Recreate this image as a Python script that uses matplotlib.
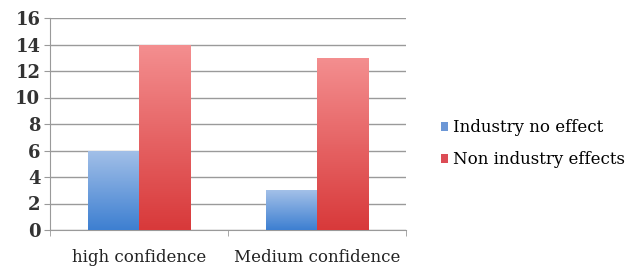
import numpy as np
import matplotlib
matplotlib.use("Agg")
import matplotlib.pyplot as plt
from matplotlib.colors import LinearSegmentedColormap
from matplotlib.patches import Patch

categories = ["high confidence", "Medium confidence"]
series_names = ["Industry no effect", "Non industry effects"]
industry_no_effect = [6, 3]
non_industry_effects = [14, 13]
yticks = [0, 2, 4, 6, 8, 10, 12, 14, 16]

plt.rcParams['font.family'] = ['DejaVu Serif', 'Liberation Serif']

fig = plt.figure(figsize=(6.28, 2.72), dpi=100)
ax = fig.add_axes([50/628, 1 - 230/272, 356/628, 212/272])

width = 0.287
x = np.arange(len(categories))
blue_cmap = LinearSegmentedColormap.from_list("b", ["#3d7fd1", "#a3c0e8"])
red_cmap = LinearSegmentedColormap.from_list("r", ["#d8393a", "#f48f90"])
grad = np.linspace(0, 1, 256).reshape(-1, 1)

def gradient_bars(xs, vals, cmap):
    bars = ax.bar(xs, vals, width, color="none", edgecolor="none")
    for b in bars:
        x0, y0 = b.get_x(), b.get_y()
        w, h = b.get_width(), b.get_height()
        im = ax.imshow(grad, extent=[x0, x0 + w, y0, y0 + h], origin="lower",
                       cmap=cmap, aspect="auto", zorder=3)
        im.set_clip_path(b)
    return bars

gradient_bars(x - width / 2, industry_no_effect, blue_cmap)
gradient_bars(x + width / 2, non_industry_effects, red_cmap)

ax.set_xlim(-0.5, 1.5)
ax.set_ylim(0, 16)
ax.set_yticks(yticks)
ax.set_yticklabels([str(t) for t in yticks], fontsize=13, fontweight="bold", color="#333333")
ax.yaxis.grid(True, color="#9a9a9a", linewidth=1.0, zorder=0)
ax.set_axisbelow(True)
ax.set_xticks(x)
ax.set_xticklabels(categories, fontsize=12, color="#222222")
ax.tick_params(axis="x", length=0, pad=14)
ax.set_xticks([-0.5, 0.5, 1.5], minor=True)
ax.tick_params(axis="x", which="minor", length=4, color="#9a9a9a")
ax.tick_params(axis="y", length=4, color="#9a9a9a", pad=3)
for s in ["top", "right"]:
    ax.spines[s].set_visible(False)
ax.spines["left"].set_color("#9a9a9a")
ax.spines["bottom"].set_color("#9a9a9a")

handles = [Patch(facecolor="#6c97d6", label=series_names[0]),
           Patch(facecolor="#dc4c55", label=series_names[1])]
fig.legend(handles=handles, loc="center left", bbox_to_anchor=(434/628, 1 - 144/272),
           frameon=False, fontsize=12, handlelength=0.45, handleheight=0.45,
           handletextpad=0.3, labelspacing=0.9, borderaxespad=0)

fig.savefig("out.png", dpi=100)
